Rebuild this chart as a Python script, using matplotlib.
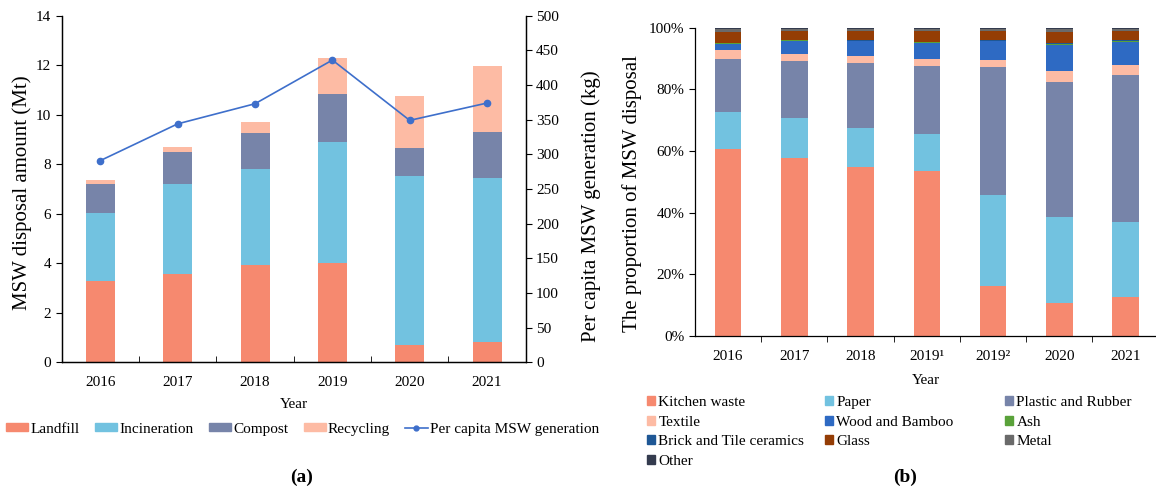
import matplotlib
matplotlib.use("Agg")
import matplotlib.pyplot as plt
import numpy as np
from matplotlib.patches import Patch
from matplotlib.lines import Line2D

plt.rcParams['font.family'] = ['Liberation Serif', 'DejaVu Serif']

# ---- (a) disposal amount by method ----
years_a = ["2016", "2017", "2018", "2019", "2020", "2021"]
landfill = [3.28, 3.57, 3.94, 4.00, 0.70, 0.81]
incineration = [2.74, 3.62, 3.85, 4.90, 6.82, 6.63]
compost = [1.17, 1.29, 1.46, 1.92, 1.15, 1.86]
recycling = [0.16, 0.20, 0.46, 1.47, 2.10, 2.65]
per_capita = [291, 344, 373, 436, 349, 374]

# ---- (b) composition of disposed MSW (%) ----
years_b = ["2016", "2017", "2018", "2019\u00b9", "2019\u00b2", "2020", "2021"]
kitchen = [60.5, 57.8, 54.9, 53.5, 16.1, 10.7, 12.6]
paper = [12.0, 12.8, 12.4, 12.0, 29.6, 28.0, 24.3]
plastic = [17.5, 18.6, 21.3, 22.1, 41.4, 43.7, 47.8]
textile = [2.9, 2.4, 2.1, 2.4, 2.3, 3.5, 3.2]
wood = [1.9, 4.2, 5.0, 5.0, 6.2, 8.5, 7.6]
ash = [0.1, 0.1, 0.1, 0.2, 0.2, 0.4, 0.2]
brick = [0.1, 0.1, 0.1, 0.1, 0.2, 0.1, 0.2]
glass = [3.7, 2.9, 3.1, 3.7, 2.9, 3.8, 3.1]
metal = [0.9, 0.8, 0.7, 0.7, 0.8, 0.9, 0.7]
other = [0.4, 0.3, 0.3, 0.3, 0.3, 0.4, 0.3]

C_KITCHEN = "#F6896F"
C_PAPER = "#72C2E0"
C_PLASTIC = "#7784A9"
C_TEXTILE = "#FDBBA4"
C_WOOD = "#2E6AC3"
C_ASH = "#5AA23A"
C_BRICK = "#1E5795"
C_GLASS = "#943D05"
C_METAL = "#6A6A6A"
C_OTHER = "#343B4E"
C_LINE = "#3E6FCB"

TICK_FS = 11
LABEL_FS = 15
LEG_FS = 11

W, H = 1156, 494
fig = plt.figure(figsize=(W / 100, H / 100), dpi=100)


def px_axes(x0, y0, x1, y1):
    return fig.add_axes([x0 / W, (H - y1) / H, (x1 - x0) / W, (y1 - y0) / H])


# ================= (a) =================
ax = px_axes(61.7, 15.7, 525.7, 362.3)
xa = np.arange(len(years_a))
bw = 0.375
bottom = np.zeros(len(years_a))
for vals, col, lab in [(landfill, C_KITCHEN, "Landfill"),
                       (incineration, C_PAPER, "Incineration"),
                       (compost, C_PLASTIC, "Compost"),
                       (recycling, C_TEXTILE, "Recycling")]:
    ax.bar(xa, vals, bw, bottom=bottom, color=col, label=lab, zorder=2)
    bottom += np.array(vals)

ax.set_xlim(-0.5, len(years_a) - 0.5)
ax.set_ylim(0, 14)
ax.set_yticks(np.arange(0, 15, 2))
ax.set_xticks(xa)
ax.set_xticklabels(years_a)
ax.set_xticks(np.arange(0.5, len(years_a) - 0.5), minor=True)
ax.tick_params(axis='x', which='major', length=0, labelsize=TICK_FS, pad=10)
ax.tick_params(axis='x', which='minor', length=4, direction='in')
ax.tick_params(axis='y', length=4, labelsize=TICK_FS, direction='out')
ax.spines['top'].set_visible(False)
for s in ax.spines.values():
    s.set_linewidth(0.9)
ax.set_ylabel("MSW disposal amount (Mt)", fontsize=LABEL_FS, labelpad=3)
ax.yaxis.label.set_y(0.49)
ax.set_xlabel("Year", fontsize=TICK_FS, labelpad=6)

ax2 = ax.twinx()
ax2.plot(xa, per_capita, color=C_LINE, marker='o', markersize=4.5, lw=1.2, zorder=3)
ax2.set_ylim(0, 500)
ax2.set_yticks(np.arange(0, 501, 50))
ax2.tick_params(axis='y', length=4, labelsize=TICK_FS)
ax2.spines['top'].set_visible(False)
for s in ax2.spines.values():
    s.set_linewidth(0.9)
ax2.set_ylabel("Per capita MSW generation (kg)", fontsize=LABEL_FS, labelpad=16)
ax2.yaxis.label.set_y(0.451)

handles_a = [Patch(color=C_KITCHEN, label="Landfill"),
             Patch(color=C_PAPER, label="Incineration"),
             Patch(color=C_PLASTIC, label="Compost"),
             Patch(color=C_TEXTILE, label="Recycling"),
             Line2D([], [], color=C_LINE, marker='o', markersize=3.5, lw=1.2,
                    label="Per capita MSW generation")]
fig.legend(handles=handles_a, loc='center', bbox_to_anchor=(302.5 / W, 1 - 429 / H),
           ncol=5, frameon=False, fontsize=LEG_FS, handlelength=1.45, handleheight=0.45,
           handletextpad=0.15, columnspacing=1.0, borderpad=0)
fig.text(302 / W, 1 - 477 / H, "(a)", ha='center', va='center',
         fontsize=14, fontweight='bold')

# ================= (b) =================
bx = px_axes(695, 27.7, 1156, 335.7)
xb = np.arange(len(years_b))
bw2 = 0.40
bottom = np.zeros(len(years_b))
series_b = [(kitchen, C_KITCHEN, "Kitchen waste"),
            (paper, C_PAPER, "Paper"),
            (plastic, C_PLASTIC, "Plastic and Rubber"),
            (textile, C_TEXTILE, "Textile"),
            (wood, C_WOOD, "Wood and Bamboo"),
            (ash, C_ASH, "Ash"),
            (brick, C_BRICK, "Brick and Tile ceramics"),
            (glass, C_GLASS, "Glass"),
            (metal, C_METAL, "Metal"),
            (other, C_OTHER, "Other")]
for vals, col, lab in series_b:
    bx.bar(xb, vals, bw2, bottom=bottom, color=col, label=lab, zorder=2)
    bottom += np.array(vals)

bx.set_xlim(-0.5, len(years_b) - 0.5 - 0.04)
bx.set_ylim(0, 100)
bx.set_yticks(np.arange(0, 101, 20))
bx.set_yticklabels([f"{v}%" for v in range(0, 101, 20)])
bx.set_xticks(xb)
bx.set_xticklabels(years_b)
bx.set_xticks(np.arange(0.5, len(years_b) - 0.5), minor=True)
bx.tick_params(axis='x', which='major', length=0, labelsize=TICK_FS, pad=10)
bx.tick_params(axis='x', which='minor', length=4, direction='out')
bx.tick_params(axis='y', length=4, labelsize=TICK_FS)
bx.spines['top'].set_visible(False)
bx.spines['right'].set_visible(False)
for s in bx.spines.values():
    s.set_linewidth(0.9)
bx.set_ylabel("The proportion of MSW disposal", fontsize=LABEL_FS, labelpad=5)
bx.yaxis.label.set_y(0.462)
bx.set_xlabel("Year", fontsize=TICK_FS, labelpad=8)

# legend laid out row by row in three fixed-width columns
col_x = [647, 825, 1005]
for ci, cx in enumerate(col_x):
    hs = [Patch(color=c, label=l) for _, c, l in series_b[ci::3]]
    fig.legend(handles=hs, loc='upper left', bbox_to_anchor=(cx / W, 1 - 396 / H),
               frameon=False, fontsize=LEG_FS, handlelength=0.55, handleheight=0.55,
               handletextpad=0.2, labelspacing=0.43, borderpad=0, borderaxespad=0)
fig.text(905 / W, 1 - 477 / H, "(b)", ha='center', va='center',
         fontsize=14, fontweight='bold')

fig.savefig("out.png", dpi=100, facecolor='white')
